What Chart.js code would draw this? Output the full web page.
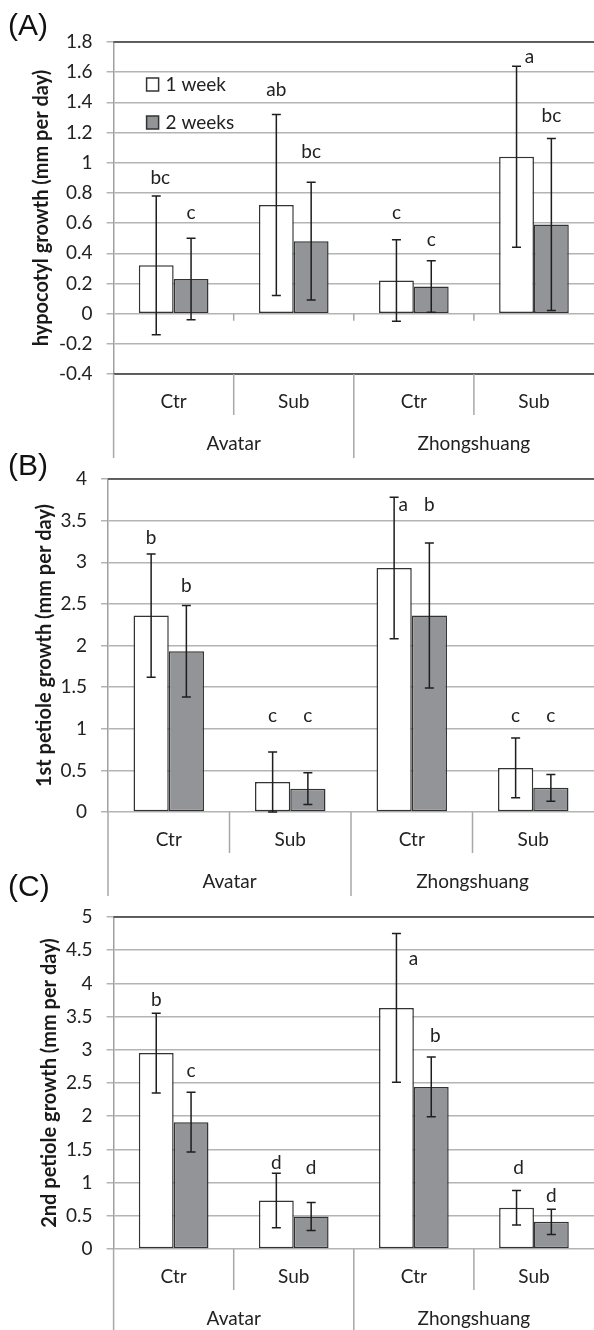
<!DOCTYPE html>
<html>
<head>
<meta charset="utf-8">
<script src="https://cdn.jsdelivr.net/npm/chart.js@4.4.1/dist/chart.umd.min.js"></script>
<style>
  html, body { margin: 0; padding: 0; background: #fff; }
  body { position: relative; width: 594px; height: 1330px; overflow: hidden; }
  canvas { position: absolute; left: 0; }
</style>
</head>
<body>
<canvas id="panelA" width="594" height="460" style="top:0px"></canvas>
<canvas id="panelB" width="594" height="470" style="top:430px"></canvas>
<canvas id="panelC" width="594" height="470" style="top:860px"></canvas>
<script>
const groups = ["Avatar", "Zhongshuang"];
const treatments = ["Ctr", "Sub", "Ctr", "Sub"];
const seriesNames = ["1 week", "2 weeks"];

// (A) hypocotyl growth
const hypoWeek1 = [0.32, 0.72, 0.22, 1.04];
const hypoWeek2 = [0.23, 0.48, 0.18, 0.59];
const hypoErr1 = [0.46, 0.60, 0.27, 0.60];
const hypoErr2 = [0.27, 0.39, 0.17, 0.57];
const hypoLetters1 = ["bc", "ab", "c", "a"];
const hypoLetters2 = ["c", "bc", "c", "bc"];
const hypoLetterY1 = [0.9, 1.48, 0.67, 1.7];
const hypoLetterY2 = [0.67, 1.07, 0.49, 1.31];
const hypoTicks = [-0.4, -0.2, 0, 0.2, 0.4, 0.6, 0.8, 1, 1.2, 1.4, 1.6, 1.8];

// (B) 1st petiole growth
const pet1Week1 = [2.36, 0.36, 2.93, 0.53];
const pet1Week2 = [1.93, 0.28, 2.36, 0.29];
const pet1Err1 = [0.74, 0.36, 0.85, 0.36];
const pet1Err2 = [0.55, 0.19, 0.87, 0.16];
const pet1Letters1 = ["b", "c", "a", "c"];
const pet1Letters2 = ["b", "c", "b", "c"];
const pet1LetterY1 = [3.29, 1.15, 3.69, 1.15];
const pet1LetterY2 = [2.72, 1.16, 3.69, 1.16];
const pet1Ticks = [0, 0.5, 1, 1.5, 2, 2.5, 3, 3.5, 4];

// (C) 2nd petiole growth
const pet2Week1 = [2.95, 0.73, 3.63, 0.62];
const pet2Week2 = [1.91, 0.49, 2.44, 0.41];
const pet2Err1 = [0.6, 0.41, 1.12, 0.26];
const pet2Err2 = [0.45, 0.21, 0.45, 0.19];
const pet2Letters1 = ["b", "d", "a", "d"];
const pet2Letters2 = ["c", "d", "b", "d"];
const pet2LetterY1 = [3.75, 1.3, 4.37, 1.22];
const pet2LetterY2 = [2.69, 1.22, 3.21, 0.8];
const pet2Ticks = [0, 0.5, 1, 1.5, 2, 2.5, 3, 3.5, 4, 4.5, 5];

const FONT = "Lato";
const TEXT = "#222";
const GRID = "#b4b4b4";
const EDGE = "#333";

// draws error bars, letters, legend, the two-level category table and the panel tag
function decor(p) {
  return {
    id: "decor",
    afterDatasetsDraw(chart) {
      const { ctx, scales: { y } } = chart;
      ctx.save();
      ctx.strokeStyle = "#1e1e1e";
      ctx.lineWidth = 1.5;
      [p.err1, p.err2].forEach((errs, d) => {
        chart.getDatasetMeta(d).data.forEach((bar, i) => {
          const v = chart.data.datasets[d].data[i];
          const yt = y.getPixelForValue(v + errs[i]);
          const yb = y.getPixelForValue(v - errs[i]);
          ctx.beginPath();
          ctx.moveTo(bar.x, yt); ctx.lineTo(bar.x, yb);
          ctx.moveTo(bar.x - 4.5, yt); ctx.lineTo(bar.x + 4.5, yt);
          ctx.moveTo(bar.x - 4.5, yb); ctx.lineTo(bar.x + 4.5, yb);
          ctx.stroke();
        });
      });
      // significance letters
      ctx.fillStyle = TEXT;
      ctx.font = "19px " + FONT;
      ctx.textAlign = "center";
      ctx.textBaseline = "middle";
      [[p.letters1, p.letterY1, p.shift1], [p.letters2, p.letterY2, p.shift2]].forEach((set, d) => {
        chart.getDatasetMeta(d).data.forEach((bar, i) => {
          ctx.fillText(set[0][i], bar.x + set[2][i], y.getPixelForValue(set[1][i]));
        });
      });
      ctx.restore();
    },
    afterDraw(chart) {
      const { ctx, chartArea: a, scales: { y } } = chart;
      const n = treatments.length;
      const w = (a.right - a.left) / n;
      ctx.save();
      // dark plot border on top (and bottom when the axis crosses at zero)
      ctx.strokeStyle = "#3c3c3c";
      ctx.lineWidth = 1.5;
      ctx.beginPath();
      ctx.moveTo(a.left, a.top); ctx.lineTo(a.right, a.top);
      if (y.min < 0) { ctx.moveTo(a.left, a.bottom); ctx.lineTo(a.right, a.bottom); }
      ctx.stroke();

      // category table under the plot
      ctx.strokeStyle = "#a8a8a8";
      ctx.beginPath();
      ctx.moveTo(a.left, a.bottom); ctx.lineTo(a.left, a.bottom + 84);
      for (let i = 1; i < n; i++) {
        const xs = a.left + i * w;
        ctx.moveTo(xs, a.bottom);
        ctx.lineTo(xs, a.bottom + (i % 2 === 0 ? 84 : 41));
        if (y.min < 0) {
          const y0 = y.getPixelForValue(0);
          ctx.moveTo(xs, y0); ctx.lineTo(xs, y0 + 7);
        }
      }
      ctx.stroke();

      ctx.fillStyle = TEXT;
      ctx.font = "19px " + FONT;
      ctx.textAlign = "center";
      ctx.textBaseline = "middle";
      const xs = chart.scales.x;
      treatments.forEach((t, i) => ctx.fillText(t, xs.getPixelForValue(i), a.bottom + 28));
      groups.forEach((g, k) => {
        const cx = (xs.getPixelForValue(2 * k) + xs.getPixelForValue(2 * k + 1)) / 2;
        ctx.fillText(g, cx, a.bottom + 70);
      });

      // legend (panel A only)
      if (p.legend) {
        ctx.textAlign = "left";
        chart.data.datasets.forEach((ds, d) => {
          const bx = a.left + 33, by = a.top + 36 + d * 38;
          ctx.fillStyle = ds.backgroundColor;
          ctx.fillRect(bx, by, 12, 13);
          ctx.strokeStyle = EDGE;
          ctx.strokeRect(bx, by, 12, 13);
          ctx.fillStyle = TEXT;
          ctx.fillText(ds.label, bx + 19, by + 6.5);
        });
      }

      // panel tag
      ctx.fillStyle = "#111";
      ctx.font = '30px "Liberation Sans"';
      ctx.textAlign = "left";
      ctx.fillText(p.tag, 8, p.tagY);
      ctx.restore();
    }
  };
}

function makePanel(p) {
  const ctx = document.getElementById(p.canvas).getContext("2d");
  return new Chart(ctx, {
    type: "bar",
    data: {
      labels: treatments,
      datasets: [
        { label: seriesNames[0], data: p.week1, backgroundColor: "#ffffff" },
        { label: seriesNames[1], data: p.week2, backgroundColor: "#929497" }
      ]
    },
    options: {
      responsive: false,
      animation: false,
      devicePixelRatio: 1,
      layout: { padding: { top: p.padTop, bottom: p.padBottom, left: 0, right: 0 } },
      datasets: {
        bar: {
          borderColor: EDGE,
          borderWidth: 1.5,
          borderSkipped: false,
          barPercentage: 1,
          categoryPercentage: 0.58
        }
      },
      plugins: { legend: { display: false }, tooltip: { enabled: false } },
      scales: {
        x: { display: false },
        y: {
          min: p.ticks[0],
          max: p.ticks[p.ticks.length - 1],
          afterBuildTicks: (s) => { s.ticks = p.ticks.map((v) => ({ value: v })); },
          afterFit: (s) => { s.width = p.axisWidth; },
          grid: { color: GRID, lineWidth: 1.5, tickLength: 7 },
          border: { color: "#a0a0a0", width: 1.5 },
          ticks: {
            padding: 14,
            color: TEXT,
            font: { family: FONT, size: 19 },
            callback: (v) => String(+v.toFixed(2))
          },
          title: {
            display: true,
            text: p.title,
            color: "#1a1a1a",
            font: { family: FONT, size: 20, weight: "bold" },
            padding: { top: p.titlePad, bottom: 0 }
          }
        }
      }
    },
    plugins: [decor(p)]
  });
}

makePanel({
  canvas: "panelA", tag: "(A)", tagY: 27, legend: true,
  title: "hypocotyl growth (mm per day)", titlePad: 30, axisWidth: 113.6,
  padTop: 42, padBottom: 86, ticks: hypoTicks,
  week1: hypoWeek1, week2: hypoWeek2, err1: hypoErr1, err2: hypoErr2,
  letters1: hypoLetters1, letters2: hypoLetters2,
  letterY1: hypoLetterY1, letterY2: hypoLetterY2,
  shift1: [4, 0, 0, 13], shift2: [0, 0, 0, 0]
});

makePanel({
  canvas: "panelB", tag: "(B)", tagY: 37, legend: false,
  title: "1st petiole growth (mm per day)", titlePad: 32.5, axisWidth: 108,
  padTop: 49, padBottom: 88, ticks: pet1Ticks,
  week1: pet1Week1, week2: pet1Week2, err1: pet1Err1, err2: pet1Err2,
  letters1: pet1Letters1, letters2: pet1Letters2,
  letterY1: pet1LetterY1, letterY2: pet1LetterY2,
  shift1: [0, 0, 9, 0], shift2: [0, 0, 0, 0]
});

makePanel({
  canvas: "panelC", tag: "(C)", tagY: 28, legend: false,
  title: "2nd petiole growth (mm per day)", titlePad: 38, axisWidth: 113.6,
  padTop: 57, padBottom: 81, ticks: pet2Ticks,
  week1: pet2Week1, week2: pet2Week2, err1: pet2Err1, err2: pet2Err2,
  letters1: pet2Letters1, letters2: pet2Letters2,
  letterY1: pet2LetterY1, letterY2: pet2LetterY2,
  shift1: [0, 0, 17, 2], shift2: [0, 0, 4, 0]
});
</script>
</body>
</html>
